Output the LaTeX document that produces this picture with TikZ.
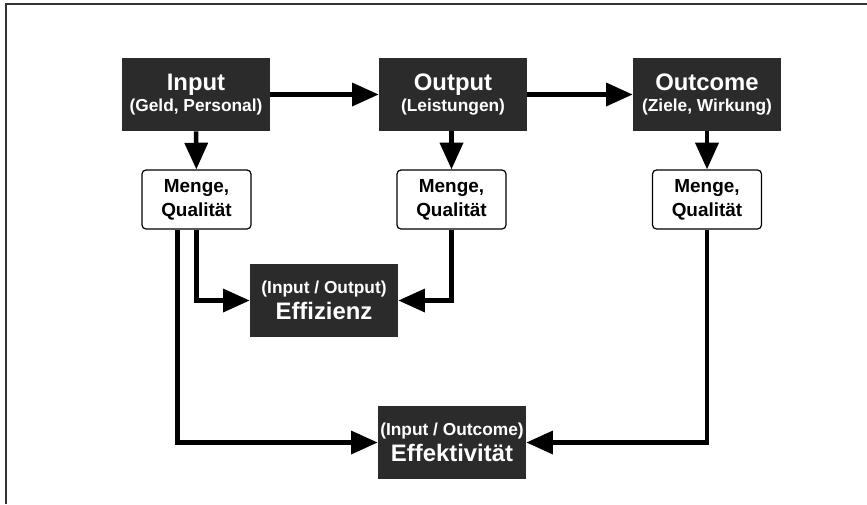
\documentclass[tikz,border=0pt]{standalone}
\usepackage{fontspec}
\setmainfont{Liberation Sans}
\usetikzlibrary{arrows.meta, positioning}
\usepackage{xcolor}
\definecolor{boxdark}{RGB}{43,43,43}
\newcommand{\bigtxt}{\fontsize{17.9}{21}\selectfont\bfseries}
\newcommand{\smalltxt}{\fontsize{13}{16}\selectfont\bfseries}

\begin{document}
\begin{tikzpicture}[x=0.75pt, y=-0.75pt,
  dark/.style={fill=boxdark, text=white, minimum width=111pt, minimum height=54.75pt, inner sep=0pt, align=center, font=\fontsize{13}{16.2}\selectfont},
  qual/.style={draw, rounded corners=3pt, line width=0.9pt, fill=white, minimum width=81.75pt, minimum height=44.25pt, inner sep=0pt, align=center, font=\fontsize{14.2}{18}\selectfont\bfseries},
  flow/.style={-{Triangle[length=20pt, width=17pt]}, line width=3.4pt}
]
\useasboundingbox (0,0) rectangle (867,504);
\draw[line width=1.5pt, black!80] (6,504) -- (6,4) -- (867,4);

\node[dark] (input)   at (196,94.5) {{\bigtxt Input}\\{\smalltxt (Geld, Personal)}};
\node[dark] (output)  at (453,94.5) {{\bigtxt Output}\\{\smalltxt (Leistungen)}};
\node[dark] (outcome) at (707,94.5) {{\bigtxt Outcome}\\{\smalltxt (Ziele, Wirkung)}};

\node[qual] (mq1) at (196.5,199.5) {Menge,\\Qualität};
\node[qual] (mq2) at (451.5,199.5) {Menge,\\Qualität};
\node[qual] (mq3) at (707,199.5) {Menge,\\Qualität};

\node[dark] (effizienz) at (324,300.5) {{\smalltxt (Input / Output)}\\[3.3pt]{\bigtxt Effizienz}};
\node[dark] (effekt)    at (452,442.5) {{\smalltxt (Input / Outcome)}\\[3.3pt]{\bigtxt Effektivität}};

\draw[flow] (input) -- (output);
\draw[flow] (output) -- (outcome);
\draw[flow] (input) -- (mq1);
\draw[flow] (output.south -| mq2) -- (mq2);
\draw[flow] (outcome) -- (mq3);

\draw[flow] (mq1.south) |- (effizienz.west);
\draw[flow] (mq2.south) |- (effizienz.east);
\draw[flow] ([xshift=-14.25pt]mq1.south) |- (effekt.west);
\draw[flow] (mq3.south) |- (effekt.east);
\end{tikzpicture}
\end{document}
